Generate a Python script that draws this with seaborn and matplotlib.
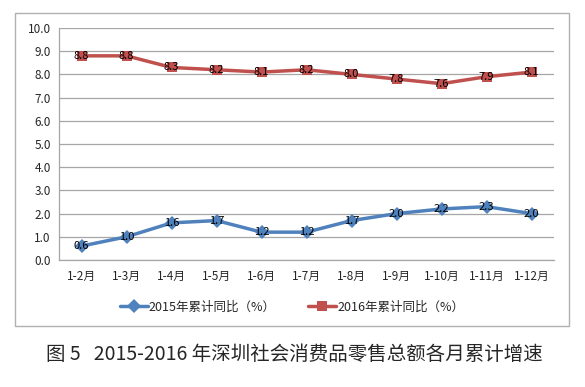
import pandas as pd
import matplotlib.pyplot as plt
import seaborn as sns
from matplotlib.patches import Rectangle

months = ['1-2月', '1-3月', '1-4月', '1-5月', '1-6月', '1-7月',
          '1-8月', '1-9月', '1-10月', '1-11月', '1-12月']
growth_2015 = [0.6, 1.0, 1.6, 1.7, 1.2, 1.2, 1.7, 2.0, 2.2, 2.3, 2.0]
growth_2016 = [8.8, 8.8, 8.3, 8.2, 8.1, 8.2, 8.0, 7.8, 7.6, 7.9, 8.1]
series_names = ['2015年累计同比（%）', '2016年累计同比（%）']
title = '图 5   2015-2016 年深圳社会消费品零售总额各月累计增速'

df = pd.concat([
    pd.DataFrame({'month': months, 'value': growth_2015, 'series': series_names[0]}),
    pd.DataFrame({'month': months, 'value': growth_2016, 'series': series_names[1]}),
])

sns.set_style('white')
plt.rcParams['font.family'] = ['Noto Sans CJK SC', 'DejaVu Sans']

fig = plt.figure(figsize=(5.85, 3.87), dpi=100)
ax = fig.add_axes([59 / 585, 1 - 260 / 387, 495 / 585, 232 / 387])

# outer chart frame
fig.patches.append(Rectangle((15 / 585, 1 - 326 / 387), 554 / 585, 313 / 387,
                             transform=fig.transFigure, fill=False,
                             edgecolor='#B0B0B0', linewidth=1.0))

palette = {series_names[0]: '#4F81BD', series_names[1]: '#C0504D'}
sns.lineplot(data=df, x='month', y='value', hue='series', style='series',
             markers={series_names[0]: 'D', series_names[1]: 's'},
             dashes=False, palette=palette, linewidth=2.5, markersize=7,
             markeredgewidth=0, sort=False, ax=ax)

for vals in (growth_2015, growth_2016):
    for i, v in enumerate(vals):
        ax.text(i, v, f'{v:.1f}', ha='center', va='center', fontsize=8, color='black')

ax.set_xlim(-0.5, len(months) - 0.5)
ax.set_ylim(0, 10)
ax.set_yticks([i * 1.0 for i in range(11)])
ax.set_yticklabels([f'{i:.1f}' for i in range(11)], fontsize=8.5)
ax.tick_params(axis='x', labelsize=8.5, pad=7, length=0)
ax.tick_params(axis='y', pad=6, length=0)
ax.set_xlabel('')
ax.set_ylabel('')
ax.grid(axis='y', color='#A6A6A6', linewidth=0.9)
ax.set_axisbelow(True)
for side in ('top', 'right'):
    ax.spines[side].set_visible(False)
for side in ('left', 'bottom'):
    ax.spines[side].set_color('#A6A6A6')
    ax.spines[side].set_linewidth(0.9)

handles, labels = ax.get_legend_handles_labels()
ax.legend(handles, labels, loc='center', bbox_to_anchor=(292 / 585, 1 - 307 / 387),
          bbox_transform=fig.transFigure, ncol=2, frameon=False, fontsize=9,
          handlelength=2.2, columnspacing=2.6, handletextpad=0.1)

fig.text(294 / 585, 1 - 355 / 387, title, ha='center', va='center', fontsize=14)

fig.savefig('out.png', dpi=100)
